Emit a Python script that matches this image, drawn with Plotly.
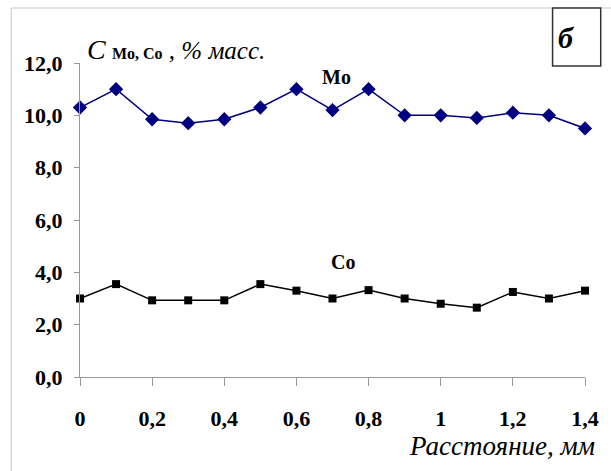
import plotly.graph_objects as go

distance = [0, 0.1, 0.2, 0.3, 0.4, 0.5, 0.6, 0.7, 0.8, 0.9, 1.0, 1.1, 1.2, 1.3, 1.4]
mo = [10.3, 11.0, 9.85, 9.7, 9.85, 10.3, 11.0, 10.2, 11.0, 10.0, 10.0, 9.9, 10.1, 10.0, 9.5]
co = [3.0, 3.55, 2.93, 2.93, 2.93, 3.55, 3.3, 3.0, 3.32, 3.0, 2.8, 2.65, 3.25, 3.0, 3.3]

x_tickvals = [0, 0.2, 0.4, 0.6, 0.8, 1.0, 1.2, 1.4]
x_ticktext = ["0", "0,2", "0,4", "0,6", "0,8", "1", "1,2", "1,4"]
y_tickvals = [0, 2, 4, 6, 8, 10, 12]
y_ticktext = ["0,0", "2,0", "4,0", "6,0", "8,0", "10,0", "12,0"]

SERIF = "Liberation Serif"

fig = go.Figure()
fig.add_trace(go.Scatter(x=distance, y=mo, mode="lines+markers", name="Mo",
                         line=dict(color="#000080", width=1.5),
                         marker=dict(symbol="diamond", size=11, color="#000080"),
                         cliponaxis=False))
fig.add_trace(go.Scatter(x=distance, y=co, mode="lines+markers", name="Co",
                         line=dict(color="#000000", width=1.5),
                         marker=dict(symbol="square", size=8, color="#000000"),
                         cliponaxis=False))

# plot area: x 80..594, y 63..377
W, H = 611, 471
L, R, T, B = 80, 594, 63, 377
def px(x):
    return (x - L) / (R - L)
def py(y):
    return (B - y) / (B - T)

fig.update_layout(
    width=W, height=H,
    margin=dict(l=L, r=W - R, t=T, b=H - B),
    paper_bgcolor="white", plot_bgcolor="white",
    showlegend=False,
    xaxis=dict(range=[0, 1.4], tickvals=x_tickvals, ticktext=x_ticktext,
               showgrid=False, zeroline=False, showline=True, linecolor="#999999", linewidth=1,
               ticks="outside", ticklen=8, tickcolor="#999999",
               ticklabelstandoff=14,
               tickfont=dict(family=SERIF, size=22, color="black", weight="bold")),
    yaxis=dict(range=[0, 12], tickvals=y_tickvals, ticktext=y_ticktext,
               showgrid=False, zeroline=False, showline=True, linecolor="#999999", linewidth=1,
               ticks="outside", ticklen=5, tickcolor="#999999",
               ticklabelstandoff=7,
               tickfont=dict(family=SERIF, size=22, color="black", weight="bold")),
    shapes=[
        dict(type="rect", xref="paper", yref="paper",
             x0=px(10), x1=px(640), y0=py(500), y1=py(8),
             line=dict(color="#c8c8c8", width=1), fillcolor="rgba(0,0,0,0)", layer="below"),
        dict(type="rect", xref="paper", yref="paper",
             x0=px(561), x1=px(610), y0=py(66), y1=py(8),
             line=dict(color="#333333", width=1.5), fillcolor="white", layer="above"),
    ],
    annotations=[
        dict(xref="paper", yref="paper", x=px(585), y=py(38), yanchor="middle", text="<b><i>б</i></b>",
             showarrow=False, font=dict(family=SERIF, size=30, color="black")),
        dict(xref="paper", yref="paper", x=px(85), y=py(67), xanchor="left", yanchor="bottom",
             text="<i><span style='font-size:28px'>C</span></i> <b><span style='font-size:16px'>Mo, Co</span></b><i> , % масс.</i>",
             showarrow=False, font=dict(family=SERIF, size=25, color="black")),
        dict(xref="paper", yref="paper", x=px(341), y=py(77), yanchor="middle", text="<b>Mo</b>",
             showarrow=False, font=dict(family=SERIF, size=20, color="black")),
        dict(xref="paper", yref="paper", x=px(348), y=py(262), yanchor="middle", text="<b>Co</b>",
             showarrow=False, font=dict(family=SERIF, size=20, color="black")),
        dict(xref="paper", yref="paper", x=px(606), y=py(446), xanchor="right", yanchor="middle",
             text="<i>Расстояние, мм</i>",
             showarrow=False, font=dict(family=SERIF, size=27, color="black")),
    ],
)

fig.write_html("out.html", config={"displayModeBar": False},
               post_script="document.body.style.margin='0';document.body.style.overflow='hidden';")
